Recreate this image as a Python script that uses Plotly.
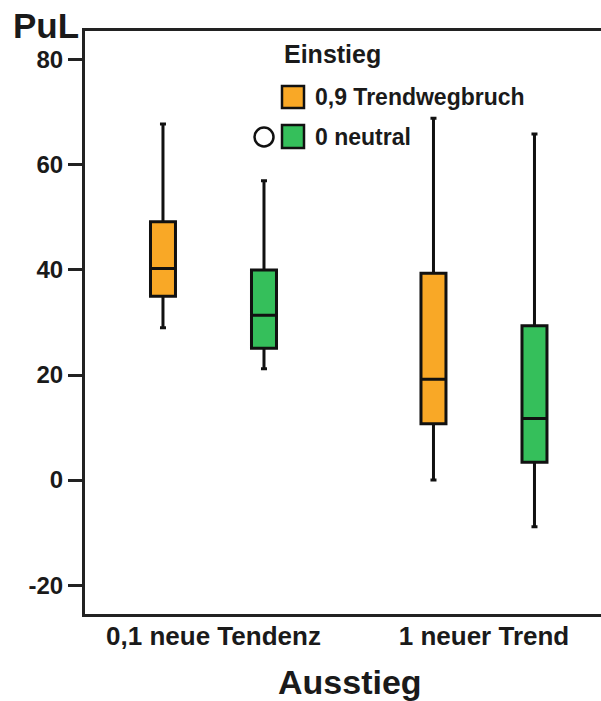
import plotly.graph_objects as go

# ---- data ----
categories = ["0,1 neue Tendenz", "1 neuer Trend"]
series_names = ["0,9 Trendwegbruch", "0 neutral"]
series_colors = ["#F9A826", "#35BF5B"]

trend_lower = [29.0, 0.0]
trend_q1 = [35.0, 10.7]
trend_median = [40.3, 19.2]
trend_q3 = [49.2, 39.4]
trend_upper = [67.8, 68.9]

neutral_lower = [21.2, -8.9]
neutral_q1 = [25.1, 3.4]
neutral_median = [31.4, 11.7]
neutral_q3 = [40.0, 29.4]
neutral_upper = [57.0, 65.9]

y_ticks = [-20, 0, 20, 40, 60, 80]
y_tick_labels = ["-20", "0", "20", "40", "60", "80"]
y_title = "PuL"
x_title = "Ausstieg"
legend_title = "Einstieg"

# ---- layout geometry ----
W, H = 601, 701
ML, MR, MT, MB = 85, 0, 31, 87
PW, PH = W - ML - MR, H - MT - MB

def px(x):
    return (x - ML) / PW

def py(y):
    return 1 - (y - MT) / PH

FONT = "Liberation Sans, Arial, Helvetica, sans-serif"
TXT = "#1a1a1a"

fig = go.Figure()
stats = [
    (trend_lower, trend_q1, trend_median, trend_q3, trend_upper),
    (neutral_lower, neutral_q1, neutral_median, neutral_q3, neutral_upper),
]
for name, color, (lo, q1, med, q3, up) in zip(series_names, series_colors, stats):
    fig.add_trace(go.Box(
        name=name,
        x=categories,
        lowerfence=lo, q1=q1, median=med, q3=q3, upperfence=up,
        fillcolor=color,
        line=dict(color="#111111", width=3),
        whiskerwidth=0.24,
        boxpoints=False,
        showlegend=False,
        hoverinfo="skip",
    ))

fig.update_layout(
    width=W, height=H,
    margin=dict(l=ML, r=MR, t=MT, b=MB, pad=0),
    paper_bgcolor="white", plot_bgcolor="white",
    boxmode="group", boxgap=0.2532, boxgroupgap=0.7525,
    showlegend=False,
    font=dict(family=FONT, color=TXT),
)
fig.update_xaxes(
    type="category", range=[-0.475, 1.4326],
    showline=True, linecolor="#222222", linewidth=3, mirror=True,
    showgrid=False, zeroline=False, ticks="",
    tickfont=dict(family=FONT, size=26, color=TXT, weight="bold"),
    ticklabelstandoff=-3,
)
fig.update_yaxes(
    range=[-25.5, 85.5], tickvals=y_ticks, ticktext=y_tick_labels,
    showline=True, linecolor="#222222", linewidth=3, mirror=False,
    showgrid=False, zeroline=False,
    ticks="outside", ticklen=14, tickwidth=3, tickcolor="#222222",
    tickfont=dict(family=FONT, size=24, color=TXT, weight="bold"),
)

ann = []
ann.append(dict(text=y_title, x=px(11), y=py(25), xanchor="left", yanchor="middle",
                font=dict(size=35, weight="bold", color=TXT, family=FONT)))
ann.append(dict(text=x_title, x=px(350), y=py(682), xanchor="center", yanchor="middle",
                font=dict(size=34, weight="bold", color=TXT, family=FONT)))
ann.append(dict(text=legend_title, x=px(282), y=py(54), xanchor="left", yanchor="middle",
                font=dict(size=25, weight="bold", color=TXT, family=FONT)))
legend_rows = [(86, 108), (125, 148)]
for name, color, (y0, y1) in zip(series_names, series_colors, legend_rows):
    ann.append(dict(text=name, x=px(313), y=py((y0 + y1) / 2), xanchor="left", yanchor="middle",
                    font=dict(size=23, weight="bold", color=TXT, family=FONT)))
    fig.add_shape(type="rect", xref="paper", yref="paper",
                  x0=px(282), x1=px(304), y0=py(y1), y1=py(y0),
                  fillcolor=color, line=dict(color="#111111", width=2.5))
fig.add_shape(type="circle", xref="paper", yref="paper",
              x0=px(254.5), x1=px(273.5), y0=py(146.5), y1=py(127.5),
              fillcolor="white", line=dict(color="#111111", width=2.5))
for a in ann:
    a.update(xref="paper", yref="paper", showarrow=False)
fig.update_layout(annotations=ann)

fig.write_html("out.html")
